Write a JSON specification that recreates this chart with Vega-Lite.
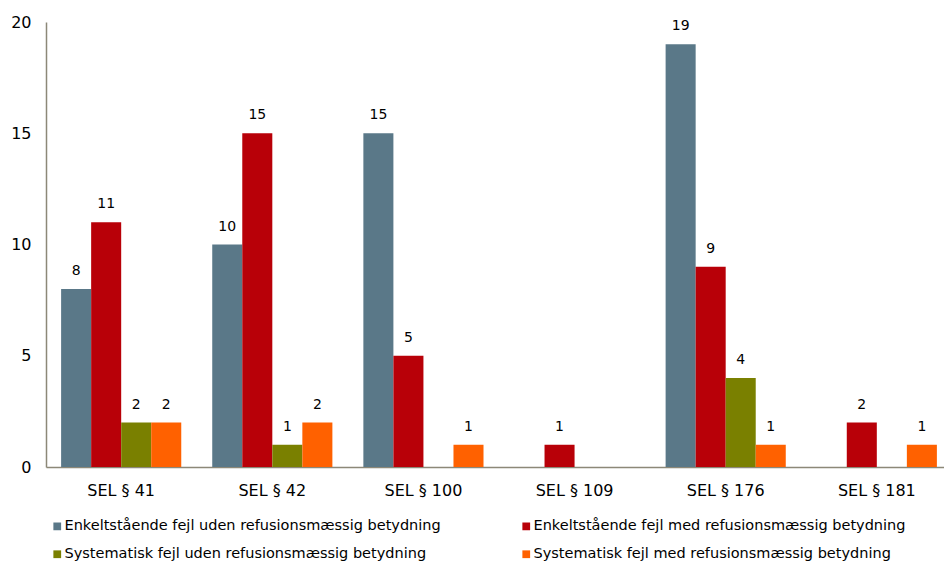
{
  "$schema": "https://vega.github.io/schema/vega-lite/v6.json",
  "autosize": {"type": "none"},
  "width": 906,
  "height": 445,
  "padding": {"left": 46, "top": 22, "right": 0, "bottom": 96},
  "background": "white",
  "config": {"view": {"stroke": null}, "font": "DejaVu Sans"},
  "data": {"values": [
    {"kategori": "SEL § 41", "serie": "Enkeltstående fejl uden refusionsmæssig betydning", "antal": 8},
    {"kategori": "SEL § 41", "serie": "Enkeltstående fejl med refusionsmæssig betydning", "antal": 11},
    {"kategori": "SEL § 41", "serie": "Systematisk fejl uden refusionsmæssig betydning", "antal": 2},
    {"kategori": "SEL § 41", "serie": "Systematisk fejl med refusionsmæssig betydning", "antal": 2},
    {"kategori": "SEL § 42", "serie": "Enkeltstående fejl uden refusionsmæssig betydning", "antal": 10},
    {"kategori": "SEL § 42", "serie": "Enkeltstående fejl med refusionsmæssig betydning", "antal": 15},
    {"kategori": "SEL § 42", "serie": "Systematisk fejl uden refusionsmæssig betydning", "antal": 1},
    {"kategori": "SEL § 42", "serie": "Systematisk fejl med refusionsmæssig betydning", "antal": 2},
    {"kategori": "SEL § 100", "serie": "Enkeltstående fejl uden refusionsmæssig betydning", "antal": 15},
    {"kategori": "SEL § 100", "serie": "Enkeltstående fejl med refusionsmæssig betydning", "antal": 5},
    {"kategori": "SEL § 100", "serie": "Systematisk fejl med refusionsmæssig betydning", "antal": 1},
    {"kategori": "SEL § 109", "serie": "Enkeltstående fejl med refusionsmæssig betydning", "antal": 1},
    {"kategori": "SEL § 176", "serie": "Enkeltstående fejl uden refusionsmæssig betydning", "antal": 19},
    {"kategori": "SEL § 176", "serie": "Enkeltstående fejl med refusionsmæssig betydning", "antal": 9},
    {"kategori": "SEL § 176", "serie": "Systematisk fejl uden refusionsmæssig betydning", "antal": 4},
    {"kategori": "SEL § 176", "serie": "Systematisk fejl med refusionsmæssig betydning", "antal": 1},
    {"kategori": "SEL § 181", "serie": "Enkeltstående fejl med refusionsmæssig betydning", "antal": 2},
    {"kategori": "SEL § 181", "serie": "Systematisk fejl med refusionsmæssig betydning", "antal": 1}
  ]},
  "encoding": {
    "x": {
      "field": "kategori", "type": "nominal",
      "sort": ["SEL § 41", "SEL § 42", "SEL § 100", "SEL § 109", "SEL § 176", "SEL § 181"],
      "scale": {"paddingInner": 0.205, "paddingOuter": 0.1},
      "axis": {"title": null, "labelAngle": 0, "ticks": false, "domainColor": "#8C8878", "domainWidth": 1.5, "labelFontSize": 16, "labelColor": "#000000", "labelPadding": 15}
    },
    "xOffset": {
      "field": "serie", "type": "nominal",
      "sort": ["Enkeltstående fejl uden refusionsmæssig betydning", "Enkeltstående fejl med refusionsmæssig betydning", "Systematisk fejl uden refusionsmæssig betydning", "Systematisk fejl med refusionsmæssig betydning"],
      "scale": {"domain": ["Enkeltstående fejl uden refusionsmæssig betydning", "Enkeltstående fejl med refusionsmæssig betydning", "Systematisk fejl uden refusionsmæssig betydning", "Systematisk fejl med refusionsmæssig betydning"], "paddingInner": 0, "paddingOuter": 0}
    },
    "y": {
      "field": "antal", "type": "quantitative",
      "scale": {"domain": [0, 20]},
      "axis": {"title": null, "values": [0, 5, 10, 15, 20], "grid": false, "ticks": false, "domainColor": "#8C8878", "domainWidth": 1.5, "labelFontSize": 16, "labelColor": "#000000", "labelPadding": 15}
    }
  },
  "layer": [
    {
      "mark": {"type": "bar"},
      "encoding": {
        "color": {
          "field": "serie", "type": "nominal",
          "scale": {
            "domain": ["Enkeltstående fejl uden refusionsmæssig betydning", "Enkeltstående fejl med refusionsmæssig betydning", "Systematisk fejl uden refusionsmæssig betydning", "Systematisk fejl med refusionsmæssig betydning"],
            "range": ["#5A7888", "#B80008", "#7A8000", "#FF6100"]
          },
          "legend": {
            "title": null, "orient": "none", "legendX": 4, "legendY": 497, "direction": "horizontal",
            "columns": 2, "columnPadding": 78, "rowPadding": 13,
            "symbolType": "square", "symbolSize": 60, "symbolStrokeWidth": 0, "symbolOffset": 0,
            "labelFontSize": 14.5, "labelColor": "#000000", "labelOffset": 0, "labelLimit": 500
          }
        }
      }
    },
    {
      "mark": {"type": "text", "baseline": "bottom", "dy": -11, "fontSize": 14, "color": "#000000"},
      "encoding": {"text": {"field": "antal", "type": "quantitative"}}
    }
  ]
}
